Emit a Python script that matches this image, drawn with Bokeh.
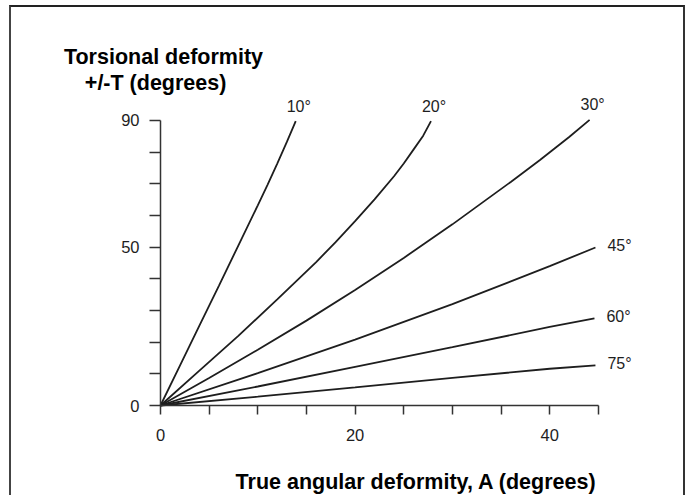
from bokeh.plotting import figure
from bokeh.models import Range1d, FixedTicker, Label, ColumnDataSource
from bokeh.core.properties import value
from bokeh.embed import file_html
from bokeh.resources import INLINE

# ---- data ----
curve_labels = ["10°", "20°", "30°", "45°", "60°", "75°"]
a10 = [0, 2, 4, 6, 8, 10, 11, 12, 13, 13.9]
t10 = [0, 12.6, 25.2, 37.8, 50.5, 63.2, 69.7, 76.4, 83.3, 89.8]
a20 = [0, 4, 8, 12, 16, 18, 20, 22, 24, 25, 26, 27, 27.8]
t20 = [0, 11, 22, 33.5, 45.3, 51.6, 58.2, 65.1, 72.4, 76.4, 80.8, 85.2, 89.8]
a30 = [0, 5, 10, 15, 20, 25, 30, 33, 36, 39, 42, 44.1]
t30 = [0, 8.7, 17.6, 26.8, 36.5, 46.6, 57.2, 63.9, 70.6, 77.5, 84.8, 90.2]
a45 = [0, 10, 20, 30, 40, 44.7]
t45 = [0, 10.2, 20.8, 32, 44, 49.9]
a60 = [0, 10, 20, 30, 40, 44.6]
t60 = [0, 6, 12.2, 18.4, 24.8, 27.5]
a75 = [0, 10, 20, 30, 40, 44.7]
t75 = [0, 2.8, 5.7, 8.7, 11.6, 12.7]

x_ticks = [0, 5, 10, 15, 20, 25, 30, 35, 40, 45]
x_tick_labels = {0: "0", 20: "20", 40: "40"}
y_ticks = [0, 10, 20, 30, 40, 50, 60, 70, 80, 90]
y_tick_labels = {0: "0", 50: "50", 90: "90"}

x_title = "True angular deformity, A (degrees)"
y_title_1 = "Torsional deformity"
y_title_2 = "+/-T (degrees)"

FONT = "Liberation Sans"
INK = "#1e1e1e"

# frame fills the canvas; axes are fixed at A=0 and T=0 inside it
p = figure(width=676, height=490, output_backend="svg", toolbar_location=None,
           x_range=Range1d(-15.31, 54.16), y_range=Range1d(-29.05, 125.68),
           min_border_left=0, min_border_right=0, min_border_top=0,
           min_border_bottom=0)
p.styles = {"margin-left": "9px", "margin-top": "5px",
            "border-top": "2px solid #222", "border-left": "2px solid #444",
            "border-right": "2px solid #333"}
p.outline_line_color = None
p.grid.grid_line_color = None
p.background_fill_color = "white"
p.border_fill_color = "white"

# axes
p.xaxis.fixed_location = 0
p.yaxis.fixed_location = 0
p.xaxis.bounds = (0, 45)
p.yaxis.bounds = (0, 90)
p.xaxis.ticker = FixedTicker(ticks=x_ticks, minor_ticks=[])
p.yaxis.ticker = FixedTicker(ticks=y_ticks, minor_ticks=[])
p.xaxis.major_label_overrides = {t: x_tick_labels.get(t, "") for t in x_ticks}
p.yaxis.major_label_overrides = {t: y_tick_labels.get(t, "") for t in y_ticks}
for ax in (p.xaxis[0], p.yaxis[0]):
    ax.axis_line_color = "#333"
    ax.axis_line_width = 1.5
    ax.major_tick_line_color = "#333"
    ax.major_tick_line_width = 1.5
    ax.major_tick_in = 0
    ax.minor_tick_line_color = None
    ax.major_label_text_font = FONT
    ax.major_label_text_font_size = "16.5px"
    ax.major_label_text_color = INK
p.xaxis.major_tick_out = 9
p.yaxis.major_tick_out = 11
p.xaxis.major_label_standoff = 14
p.yaxis.major_label_standoff = 10

# curves
series = [(a10, t10), (a20, t20), (a30, t30), (a45, t45), (a60, t60), (a75, t75)]
for a, t in series:
    p.line(a, t, line_color=INK, line_width=1.8)

# curve labels at curve ends
top = ColumnDataSource(dict(x=[s[0][-1] for s in series[:3]],
                            y=[s[1][-1] for s in series[:3]],
                            text=curve_labels[:3]))
right = ColumnDataSource(dict(x=[s[0][-1] for s in series[3:]],
                              y=[s[1][-1] for s in series[3:]],
                              text=curve_labels[3:]))
p.text(x="x", y="y", text="text", source=top, text_align="center",
       text_baseline="middle", x_offset=3, y_offset=-15,
       text_font=value(FONT), text_font_size="16px", text_color=INK)
p.text(x="x", y="y", text="text", source=right, text_align="left",
       text_baseline="middle", x_offset=12, y_offset=-2,
       text_font=value(FONT), text_font_size="16px", text_color=INK)

# axis titles
p.add_layout(Label(x=0.31, y=109.9, text=y_title_1, text_align="center",
                   text_baseline="middle", text_font=FONT,
                   text_font_size="21.5px", text_font_style="bold", text_color="black"))
p.add_layout(Label(x=-0.5, y=101.8, text=y_title_2, text_align="center",
                   text_baseline="middle", text_font=FONT,
                   text_font_size="21.5px", text_font_style="bold", text_color="black"))
p.add_layout(Label(x=26.3, y=-24, text=x_title, text_align="center",
                   text_baseline="middle", text_font=FONT,
                   text_font_size="21.5px", text_font_style="bold", text_color="black"))

open("out.html", "w").write(file_html(p, INLINE))
